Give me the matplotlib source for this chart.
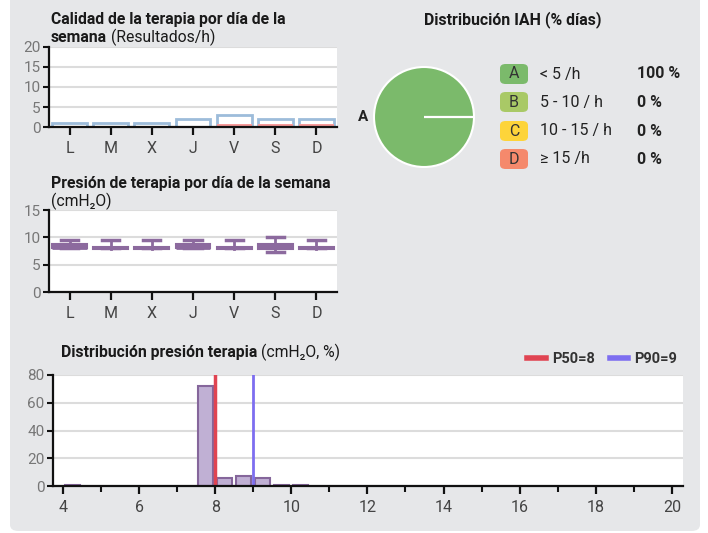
import matplotlib
matplotlib.use('Agg')
import matplotlib.pyplot as plt
from matplotlib.patches import FancyBboxPatch
from matplotlib.lines import Line2D

plt.rcParams['font.family'] = ['Roboto', 'DejaVu Sans']

W, H = 708, 533

# --- datos ---
dias = ['L', 'M', 'X', 'J', 'V', 'S', 'D']
calidad_total = [1, 1, 1, 2, 3, 2, 2]
calidad_rojo = [0, 0, 0, 0, 0.7, 0.7, 0.7]

pres_q1 = [8.0, 7.9, 7.9, 8.0, 7.9, 7.8, 7.9]
pres_med = [8.0, 8.0, 8.0, 8.0, 8.0, 8.0, 8.0]
pres_q3 = [8.7, 8.3, 8.3, 8.7, 8.3, 8.7, 8.3]
pres_lo = [8.0, 8.0, 8.0, 8.0, 8.0, 7.4, 8.0]
pres_hi = [9.6, 9.6, 9.6, 9.6, 9.6, 10.0, 9.6]

iah_letras = ['A', 'B', 'C', 'D']
iah_rangos = ['< 5 /h', '5 - 10 / h', '10 - 15 / h', '≥ 15 /h']
iah_pct = [100, 0, 0, 0]
iah_colores = ['#7bba6b', '#a9c966', '#fdd43a', '#f5896c']

hist_x = [4.25, 7.75, 8.25, 8.75, 9.25, 9.75, 10.25]
hist_y = [1, 72, 6, 7, 6, 1, 1]
p50, p90 = 8, 9


def P(x, y):
    return x / W, 1 - y / H


def box(x0, y0, x1, y1):
    return [x0 / W, 1 - y1 / H, (x1 - x0) / W, (y1 - y0) / H]


fig = plt.figure(figsize=(W / 100, H / 100), dpi=100, facecolor='white')
fig.patches.append(FancyBboxPatch(P(10, 531), 690 / W, 560 / H,
                                  boxstyle='round,pad=0,rounding_size=0.012',
                                  transform=fig.transFigure, facecolor='#e6e7e9',
                                  edgecolor='none', zorder=-10))

renderer = fig.canvas.get_renderer()


def titulo(x, y, negrita, normal, size=11.3):
    t = fig.text(*P(x, y), negrita, fontsize=size, fontweight='bold', color='#1a1a1a',
                 va='baseline')
    if normal:
        bb = t.get_window_extent(renderer)
        fig.text(bb.x1 / W + 4 / W, P(x, y)[1], normal, fontsize=size, color='#1a1a1a',
                 va='baseline')


def estilo(ax, ymax, ystep):
    ax.set_facecolor('white')
    for s in ['top', 'right']:
        ax.spines[s].set_visible(False)
    for s in ['left', 'bottom']:
        ax.spines[s].set_linewidth(1.6)
        ax.spines[s].set_color('#111111')
    ax.set_ylim(0, ymax)
    ax.set_yticks(range(0, ymax + 1, ystep))
    ax.yaxis.grid(True, color='#dcdcdc', lw=1.5)
    ax.set_axisbelow(True)
    ax.tick_params(axis='y', colors='#111111', labelcolor='#777777', labelsize=11,
                   length=4, width=1.5, pad=2)
    ax.tick_params(axis='x', colors='#111111', labelcolor='#444444', labelsize=11.5,
                   length=6, width=1.6, pad=4)


# --- calidad ---
ax1 = fig.add_axes(box(49, 47, 337, 127))
x = range(len(dias))
ax1.bar(x, calidad_total, width=0.85, facecolor='white', edgecolor='#9dbcda', lw=2)
ax1.bar(x, calidad_rojo, width=0.85, facecolor='#f79b9b', edgecolor='none')
estilo(ax1, 20, 5)
ax1.set_xlim(-0.5, 6.5)
ax1.set_xticks(list(x), dias)
titulo(51, 24, 'Calidad de la terapia por día de la', '')
titulo(51, 42, 'semana', '(Resultados/h)')

# --- presión por día ---
ax2 = fig.add_axes(box(49, 210, 337, 292))
stats = []
for i in range(len(dias)):
    stats.append(dict(med=pres_med[i], q1=pres_q1[i], q3=pres_q3[i],
                      whislo=pres_lo[i], whishi=pres_hi[i]))
morado = '#8c6a9e'
ax2.bxp(stats, positions=list(x), widths=0.85, patch_artist=True, showfliers=False,
        boxprops=dict(facecolor=morado, edgecolor=morado, lw=1.5),
        medianprops=dict(color=morado, lw=2),
        whiskerprops=dict(color=morado, lw=2),
        capprops=dict(color=morado, lw=2.5), capwidths=0.42)
estilo(ax2, 15, 5)
ax2.set_xlim(-0.5, 6.5)
ax2.set_xticks(list(x), dias)
titulo(51, 188, 'Presión de terapia por día de la semana', '')
fig.text(*P(51, 206), '(cmH₂O)', fontsize=11.3, color='#1a1a1a', va='baseline')

# --- distribución IAH ---
axp = fig.add_axes(box(369, 62, 479, 172))
axp.pie(iah_pct, colors=iah_colores, startangle=0, radius=1,
        labels=['A', '', '', ''], labeldistance=1.12,
        wedgeprops=dict(edgecolor='white', lw=1.5),
        textprops=dict(fontweight='bold', fontsize=11, color='#222222'))
axp.set_xlim(-1.1, 1.1)
axp.set_ylim(-1.1, 1.1)
fig.text(*P(513, 24), 'Distribución IAH (% días)', fontsize=11.4, fontweight='bold',
         color='#1a1a1a', ha='center', va='baseline')

ys = [74, 102, 131, 159]
for letra, rango, pct, col, yy in zip(iah_letras, iah_rangos, iah_pct, iah_colores, ys):
    fig.patches.append(FancyBboxPatch(P(500, yy + 10), 28 / W, 20 / H,
                                      boxstyle='round,pad=0,rounding_size=0.008',
                                      transform=fig.transFigure, facecolor=col,
                                      edgecolor='none'))
    fig.text(*P(514, yy), letra, fontsize=11.5, color='#333333', ha='center', va='center')
    fig.text(*P(540, yy), rango, fontsize=11.5, color='#222222', va='center')
    fig.text(*P(637, yy), f'{pct} %', fontsize=11.5, fontweight='bold', color='#222222',
             va='center')

# --- distribución presión ---
ax3 = fig.add_axes(box(53, 375, 683, 486))
ax3.bar(hist_x, hist_y, width=0.4, facecolor='#c0b0d4', edgecolor='#85669b', lw=1.5)
ax3.axvline(p50, color='#e04452', lw=2.5)
ax3.axvline(p90, color='#7d6ef0', lw=2)
estilo(ax3, 80, 20)
ax3.set_xlim(3.74, 20.29)
ax3.set_xticks(range(4, 21, 2))
ax3.set_xticks(range(5, 20, 2), minor=True)
ax3.tick_params(axis='x', which='minor', length=4, width=1.5, colors='#111111')
titulo(61, 357, 'Distribución presión terapia', '(cmH₂O, %)')

handles = [Line2D([], [], color='#e04452', lw=4), Line2D([], [], color='#7d6ef0', lw=4)]
ax3.legend(handles, [f'P50={p50}', f'P90={p90}'], loc='lower right',
           bbox_to_anchor=(1.0, 1.03), ncol=2, frameon=False, handlelength=1.3,
           handletextpad=0.4, columnspacing=1.0, borderaxespad=0,
           prop=dict(weight='bold', size=10.5), labelcolor='#333333')

fig.savefig('out.png', dpi=100)
